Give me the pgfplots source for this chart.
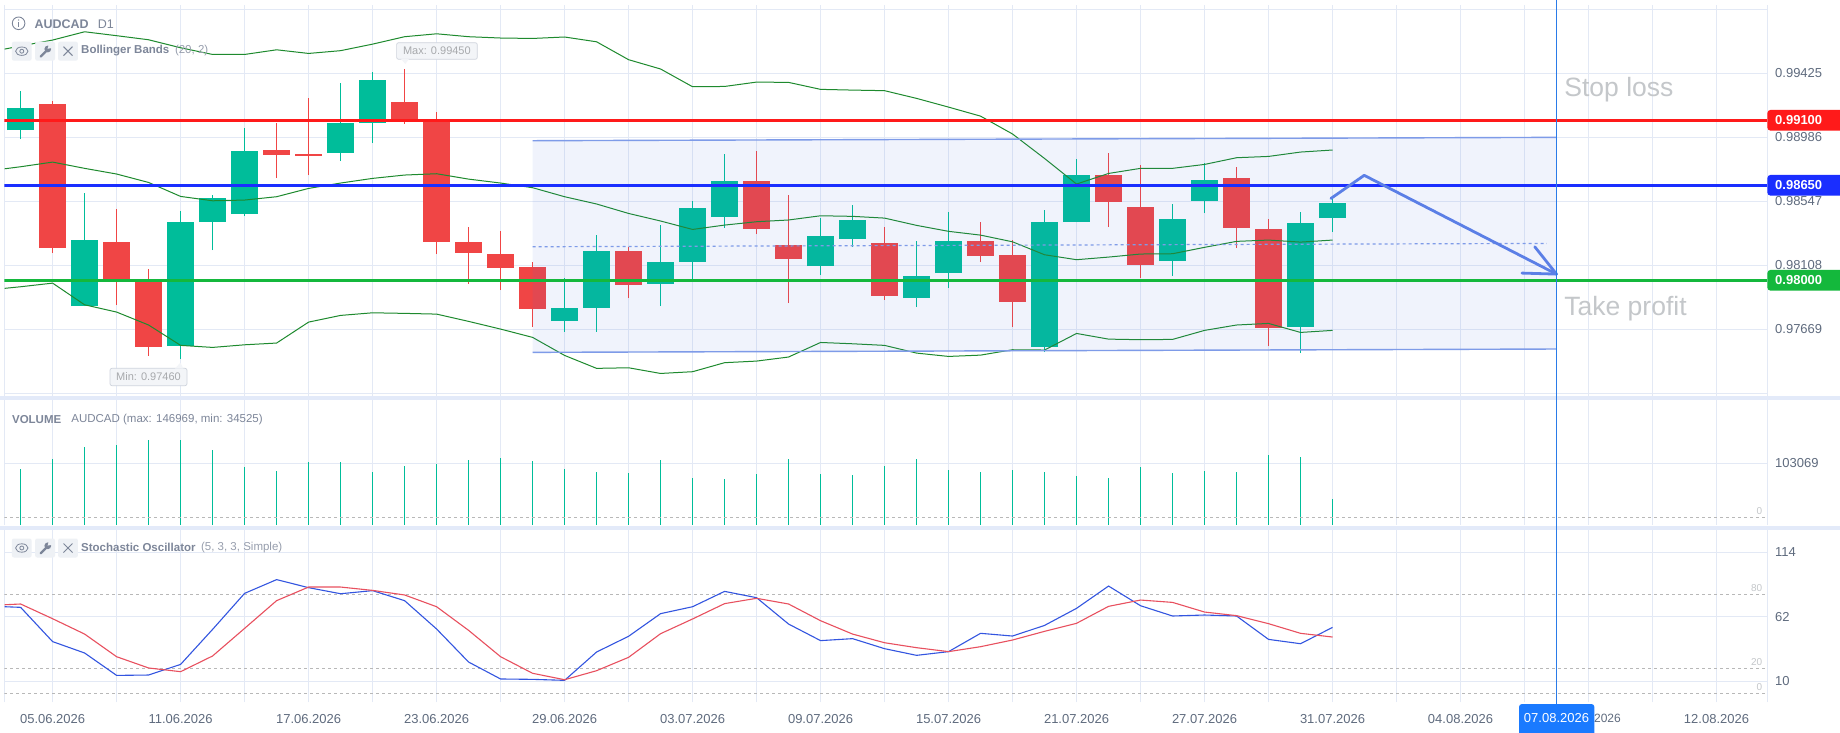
\documentclass[border=0pt]{standalone}
\usepackage{pgfplots}
\usepackage{pgfplotstable}
\usepackage{fontspec}
\setmainfont{Liberation Sans}
\pgfplotsset{compat=1.18}
\definecolor{gridc}{HTML}{E3E9F5}
\definecolor{sepc}{HTML}{E3EAF9}
\definecolor{gr}{HTML}{00BD9A}
\definecolor{rd}{HTML}{F04545}
\definecolor{bb}{HTML}{1E8A2E}
\definecolor{chan}{HTML}{4472E0}
\definecolor{chanl}{HTML}{7E9BE8}
\definecolor{arrowc}{HTML}{5B7FE6}
\definecolor{lvr}{HTML}{FF1A1A}
\definecolor{lvb}{HTML}{1A2EFF}
\definecolor{lvg}{HTML}{14B83C}
\definecolor{txt}{HTML}{5F6B7E}
\definecolor{ttl}{HTML}{7D8699}
\definecolor{faint}{HTML}{C4C7CA}
\definecolor{vline}{HTML}{2A7BE8}
\definecolor{tagb}{HTML}{1A7AFF}
\definecolor{kc}{HTML}{3355E0}
\definecolor{dc}{HTML}{E8505F}
\definecolor{dashc}{HTML}{B8B8B8}
\definecolor{btn}{HTML}{EEF1F5}
\newcommand\fs[1]{\fontsize{#1pt}{#1pt}\selectfont}
\pgfplotstableread{
i o h l c
0 0.99033 0.99301 0.98971 0.99185
2 0.97823 0.98600 0.97823 0.98277
5 0.97548 0.98476 0.97459 0.98401
6 0.98401 0.98586 0.98208 0.98566
7 0.98456 0.99047 0.98442 0.98889
10 0.98875 0.99356 0.98820 0.99081
11 0.99081 0.99432 0.98944 0.99377
17 0.97720 0.98016 0.97645 0.97810
18 0.97810 0.98311 0.97645 0.98201
20 0.97975 0.98380 0.97823 0.98126
21 0.98126 0.98545 0.98007 0.98497
22 0.98435 0.98868 0.98360 0.98683
25 0.98098 0.98428 0.98036 0.98305
26 0.98284 0.98518 0.98229 0.98415
28 0.97878 0.98270 0.97816 0.98030
29 0.98050 0.98470 0.97947 0.98270
32 0.97541 0.98483 0.97507 0.98401
33 0.98401 0.98834 0.98401 0.98724
36 0.98133 0.98525 0.98030 0.98421
37 0.98545 0.98806 0.98463 0.98690
40 0.97679 0.98470 0.97500 0.98394
41 0.98428 0.98566 0.98332 0.98531
}\greentab
\pgfplotstableread{
i o h l c
1 0.99212 0.99233 0.98188 0.98222
3 0.98263 0.98490 0.97830 0.97988
4 0.97997 0.98078 0.97480 0.97541
8 0.98896 0.99081 0.98703 0.98861
9 0.98868 0.99253 0.98724 0.98854
12 0.99226 0.99450 0.99075 0.99100
13 0.99100 0.99157 0.98181 0.98263
14 0.98263 0.98366 0.97975 0.98188
15 0.98181 0.98339 0.97933 0.98085
16 0.98091 0.98126 0.97679 0.97803
19 0.98201 0.98229 0.97878 0.97968
23 0.98683 0.98889 0.98318 0.98353
24 0.98243 0.98586 0.97844 0.98146
27 0.98256 0.98366 0.97865 0.97892
30 0.98270 0.98401 0.98126 0.98167
31 0.98174 0.98277 0.97679 0.97851
34 0.98724 0.98875 0.98366 0.98538
35 0.98504 0.98793 0.98016 0.98105
38 0.98703 0.98779 0.98222 0.98360
39 0.98353 0.98421 0.97548 0.97672
}\redtab
\pgfplotstableread{
i u m l
-0.5 0.99590 0.98767 0.97945
0 0.99611 0.98781 0.97956
1 0.99652 0.98813 0.97981
2 0.99709 0.98770 0.97832
3 0.99682 0.98731 0.97782
4 0.99654 0.98673 0.97693
5 0.99599 0.98577 0.97553
6 0.99553 0.98547 0.97539
7 0.99553 0.98552 0.97557
8 0.99585 0.98575 0.97569
9 0.99560 0.98632 0.97713
10 0.99579 0.98669 0.97759
11 0.99624 0.98701 0.97777
12 0.99675 0.98724 0.97773
13 0.99695 0.98733 0.97768
14 0.99675 0.98696 0.97718
15 0.99666 0.98669 0.97665
16 0.99663 0.98637 0.97608
17 0.99673 0.98575 0.97484
18 0.99640 0.98525 0.97395
19 0.99517 0.98460 0.97399
20 0.99453 0.98408 0.97360
21 0.99331 0.98350 0.97372
22 0.99333 0.98380 0.97434
23 0.99363 0.98403 0.97445
24 0.99361 0.98415 0.97473
25 0.99313 0.98444 0.97573
26 0.99308 0.98440 0.97564
27 0.99304 0.98428 0.97553
28 0.99251 0.98378 0.97500
29 0.99191 0.98337 0.97477
30 0.99129 0.98311 0.97486
31 0.99006 0.98265 0.97523
32 0.98838 0.98176 0.97521
33 0.98662 0.98142 0.97635
34 0.98735 0.98160 0.97596
35 0.98770 0.98181 0.97592
36 0.98770 0.98183 0.97594
37 0.98797 0.98227 0.97656
38 0.98843 0.98268 0.97693
39 0.98852 0.98277 0.97704
40 0.98882 0.98263 0.97642
41 0.98896 0.98277 0.97656
}\bolltab
\pgfplotstableread{
i v
0 92249
1 111335
2 134238
3 138055
4 146969
5 146969
6 128512
7 96066
8 88432
9 105609
10 105609
11 86523
12 97975
13 101792
14 109426
15 113244
16 107518
17 92249
18 86523
19 84615
20 109426
21 75072
22 73163
23 82706
24 111335
25 82706
26 80797
27 97975
28 111335
29 90340
30 86523
31 90340
32 86523
33 78889
34 75072
35 96066
36 84615
37 88432
38 86523
39 118969
40 115152
41 34525
}\voltab
\pgfplotstableread{
i k d
-0.5 70.0 71.6
0 69.5 72.2
1 41.8 60.3
2 32.6 47.9
3 14.5 29.6
4 14.8 20.5
5 23.4 17.5
6 51.7 30.2
7 80.8 52.5
8 91.9 74.9
9 85.4 85.9
10 80.5 85.9
11 83.0 83.2
12 74.9 79.5
13 52.0 70.0
14 25.3 50.9
15 11.6 29.6
16 11.3 16.2
17 10.5 11.0
18 33.4 18.3
19 46.1 29.1
20 64.4 48.2
21 70.0 60.1
22 82.4 72.5
23 77.3 76.8
24 56.0 72.2
25 42.6 58.7
26 44.2 47.9
27 36.1 40.9
28 30.7 36.9
29 33.7 33.7
30 48.5 37.7
31 46.3 43.1
32 54.9 50.1
33 68.7 56.6
34 86.7 70.3
35 70.8 75.4
36 62.5 73.5
37 63.3 65.7
38 62.5 62.8
39 43.6 56.3
40 40.1 48.5
41 53.3 45.5
}\stochtab
\pgfplotsset{panel/.style={
  scale only axis, width=1763.1pt, xmin=-0.51, xmax=54.59,
  xtick={-0.51,1,3,...,53,54.59},
  axis line style={draw=none}, major tick length=0pt,
  grid=major, grid style={gridc,line width=0.9pt},
  yticklabel pos=right, scaled y ticks=false,
  yticklabel style={inner sep=0pt, xshift=7.6pt, anchor=west, text=txt, font=\fs{13}},
}}
\begin{document}
\begin{tikzpicture}
\useasboundingbox (0,0) rectangle (1840pt,732pt);
\fill[white] (0,0) rectangle (1840pt,732pt);
% main panel
\begin{axis}[panel, anchor=south west, at={(4.3pt,336pt)}, height=391pt,
  ymin=0.97205, ymax=0.99893, xticklabels={},
  ytick={0.97223,0.97663,0.98103,0.98543,0.98983,0.99423,0.99863},
  yticklabels={,0.97669,0.98108,0.98547,0.98986,0.99425,}]
\addplot[gr,line width=1.2pt,mark=none,forget plot,quiver={u=0,v=\thisrow{h}-\thisrow{l}}] table[x=i,y=l]{\greentab};
\addplot[gr,line width=27pt,mark=none,forget plot,quiver={u=0,v=\thisrow{c}-\thisrow{o}}] table[x=i,y=o]{\greentab};
\addplot[rd,line width=1.2pt,mark=none,forget plot,quiver={u=0,v=\thisrow{h}-\thisrow{l}}] table[x=i,y=l]{\redtab};
\addplot[rd,line width=27pt,mark=none,forget plot,quiver={u=0,v=\thisrow{c}-\thisrow{o}}] table[x=i,y=o]{\redtab};
\addplot[bb,line width=1pt,mark=none] table[x=i,y=u]{\bolltab};
\addplot[bb,line width=1pt,mark=none] table[x=i,y=m]{\bolltab};
\addplot[bb,line width=1pt,mark=none] table[x=i,y=l]{\bolltab};
% channel
\addplot[draw=none,fill=chan,fill opacity=0.08] coordinates {(16,0.98960)(48,0.98983)(48,0.97528)(16,0.97505)} --cycle;
\addplot[chanl,line width=1.4pt] coordinates {(16,0.98960)(48,0.98983)};
\addplot[chanl,line width=1.4pt] coordinates {(16,0.97505)(48,0.97528)};
\addplot[chanl,line width=1.2pt,dash pattern=on 3pt off 3pt] coordinates {(16,0.98231)(47.7,0.98254)};
% levels
\addplot[lvr,line width=2.8pt] coordinates {(-0.51,0.99100)(54.59,0.99100)};
\addplot[lvb,line width=2.8pt] coordinates {(-0.51,0.98650)(54.59,0.98650)};
\addplot[lvg,line width=2.8pt] coordinates {(-0.51,0.98000)(54.59,0.98000)};
% arrow
\addplot[arrowc,line width=2.8pt,line cap=round,line join=round] coordinates {(40.95,0.98563)(41.99,0.98722)(48,0.98043)};
\addplot[arrowc,line width=2.8pt,line cap=round,line join=round] coordinates {(47.32,0.98231)(48,0.98043)(46.92,0.98050)};
\end{axis}
% volume panel
\begin{axis}[panel, anchor=south west, at={(4.3pt,207pt)}, height=125pt,
  ymin=-14700, ymax=223900, xticklabels={},
  ytick={103069}, yticklabels={103069}]
\addplot[gr,line width=1.3pt,mark=none,forget plot,quiver={u=0,v=\thisrow{v}+14700}] table[x=i,y expr=-14700]{\voltab};
\addplot[dashc,line width=0.9pt,dash pattern=on 3pt off 3pt] coordinates {(-0.51,0)(54.5,0)};
\end{axis}
% stochastic panel
\begin{axis}[panel, anchor=south west, at={(4.3pt,30pt)}, height=172pt,
  ymin=-7, ymax=132,
  ytick={10,62,114}, yticklabels={10,62,114},
  xticklabels={,05.06.2026,,11.06.2026,,17.06.2026,,23.06.2026,,29.06.2026,,03.07.2026,,09.07.2026,,15.07.2026,,21.07.2026,,27.07.2026,,31.07.2026,,04.08.2026,,,,12.08.2026,},
  xticklabel style={inner sep=0pt, anchor=center, yshift=-17pt, text=txt, font=\fs{13}}]
\addplot[dashc,line width=0.9pt,dash pattern=on 3pt off 3pt] coordinates {(-0.51,80)(54.5,80)};
\addplot[dashc,line width=0.9pt,dash pattern=on 3pt off 3pt] coordinates {(-0.51,20)(54.5,20)};
\addplot[dashc,line width=0.9pt,dash pattern=on 3pt off 3pt] coordinates {(-0.51,0)(54.5,0)};
\addplot[kc,line width=1.1pt,mark=none] table[x=i,y=k]{\stochtab};
\addplot[dc,line width=1.1pt,mark=none] table[x=i,y=d]{\stochtab};
\end{axis}
% annotations in page pixels
\begin{scope}[x=1pt,y=-1pt,yshift=732pt]
\fill[sepc] (0,396) rectangle (1840,400);
\fill[sepc] (0,526) rectangle (1840,530);
% level tags
\foreach \yy/\cc/\lab in {120.3/lvr/0.99100,185.3/lvb/0.98650,280.3/lvg/0.98000}{
  \fill[\cc,rounded corners=3pt] (1767.4,\yy-10.3) rectangle (1860,\yy+10.3);
  \node[anchor=west,inner sep=0pt,text=white,font=\fs{13}\bfseries] at (1775,\yy) {\lab};
}
% faint level numbers
\node[anchor=center,inner sep=0pt,text=faint,font=\fs{10}] at (1759.3,510.7) {0};
\node[anchor=center,inner sep=0pt,text=faint,font=\fs{10}] at (1756.6,587.7) {80};
\node[anchor=center,inner sep=0pt,text=faint,font=\fs{10}] at (1756.6,661.7) {20};
\node[anchor=center,inner sep=0pt,text=faint,font=\fs{10}] at (1759.3,686.7) {0};
% vertical cursor
\draw[vline,line width=0.9pt] (1556.5,0) -- (1556.5,705);
\node[anchor=east,inner sep=0pt,text=txt,font=\fs{12}] at (1621,718) {2026};
\fill[tagb,rounded corners=3pt] (1519,745) -- (1519,704) -- (1594.4,704) -- (1594.4,745) -- cycle;
\node[anchor=center,inner sep=0pt,text=white,font=\fs{13}] at (1556.5,718) {07.08.2026};
% texts
\node[anchor=west,inner sep=0pt,text=faint,font=\fs{26.5}] at (1564.2,89.5) {Stop loss};
\node[anchor=west,inner sep=0pt,text=faint,font=\fs{26.5}] at (1564.2,308.5) {Take profit};
% header
\draw[ttl,line width=0.9pt] (18.6,23.3) circle (6.3);
\draw[ttl,line width=1pt] (18.6,22) -- (18.6,27);
\fill[ttl] (18.6,20) circle (0.7);
\node[anchor=west,inner sep=0pt,text=ttl,font=\fs{12.5}\bfseries] at (34.4,24.3) {AUDCAD};
\node[anchor=west,inner sep=0pt,text=ttl,font=\fs{12.5}] at (97.7,24.3) {D1};
% icon rows
\foreach \ry in {51.2,548}{
  \fill[btn,rounded corners=2pt] (11.9,\ry-9.5) rectangle (31.6,\ry+9.5);
  \fill[btn,rounded corners=2pt] (35.2,\ry-9.5) rectangle (55,\ry+9.5);
  \fill[btn,rounded corners=2pt] (58.1,\ry-9.5) rectangle (77.9,\ry+9.5);
  \draw[ttl,line width=0.8pt] (21.8,\ry) ellipse (6.2 and 4.2);
  \draw[ttl,line width=0.8pt] (21.8,\ry) circle (2);
  \draw[ttl,line width=2.2pt,line cap=round] (40.6,\ry+5.4) -- (46.8,\ry-0.8);
  \fill[ttl] (47.8,\ry-2.2) circle (3.4);
  \fill[btn] (47.6,\ry-2.4) -- (49,\ry-7) -- (53,\ry-3.4) -- cycle;
  \draw[ttl,line width=1pt] (63.5,\ry-4.5) -- (72.5,\ry+4.5);
  \draw[ttl,line width=1pt] (72.5,\ry-4.5) -- (63.5,\ry+4.5);
}
\node[anchor=west,inner sep=0pt,text=ttl,font=\fs{11.5}\bfseries] at (81,50.7) {Bollinger Bands};
\node[anchor=west,inner sep=0pt,text=ttl!80,font=\fs{11.5}] at (174.8,50.7) {(20, 2)};
\node[anchor=west,inner sep=0pt,text=ttl,font=\fs{11.5}\bfseries] at (81,547.7) {Stochastic Oscillator};
\node[anchor=west,inner sep=0pt,text=ttl!80,font=\fs{11.5}] at (200.9,547.7) {(5, 3, 3, Simple)};
\node[anchor=west,inner sep=0pt,text=ttl,font=\fs{11.5}\bfseries] at (11.9,419.7) {VOLUME};
\node[anchor=west,inner sep=0pt,text=ttl,font=\fs{11.5}] at (71.2,419.7) {AUDCAD (max: 146969, min: 34525)};
% max, min boxes
\draw[fill=btn!70!white,draw=gridc!80!gray,line width=0.7pt,rounded corners=2pt] (396.6,42.7) rectangle (477.3,59.3);
\fill[btn!70!white] (401,59) -- (405.3,64) -- (409,59) -- cycle;
\node[anchor=center,inner sep=0pt,text=faint!85!black,font=\fs{11}] at (436.9,51) {Max: 0.99450};
\draw[fill=btn!70!white,draw=gridc!80!gray,line width=0.7pt,rounded corners=2pt] (110,368.3) rectangle (187,385.7);
\fill[btn!70!white] (175,368.6) -- (180.3,362.7) -- (183.5,368.6) -- cycle;
\node[anchor=center,inner sep=0pt,text=faint!85!black,font=\fs{11}] at (148.5,377) {Min: 0.97460};
\end{scope}
\end{tikzpicture}
\end{document}
